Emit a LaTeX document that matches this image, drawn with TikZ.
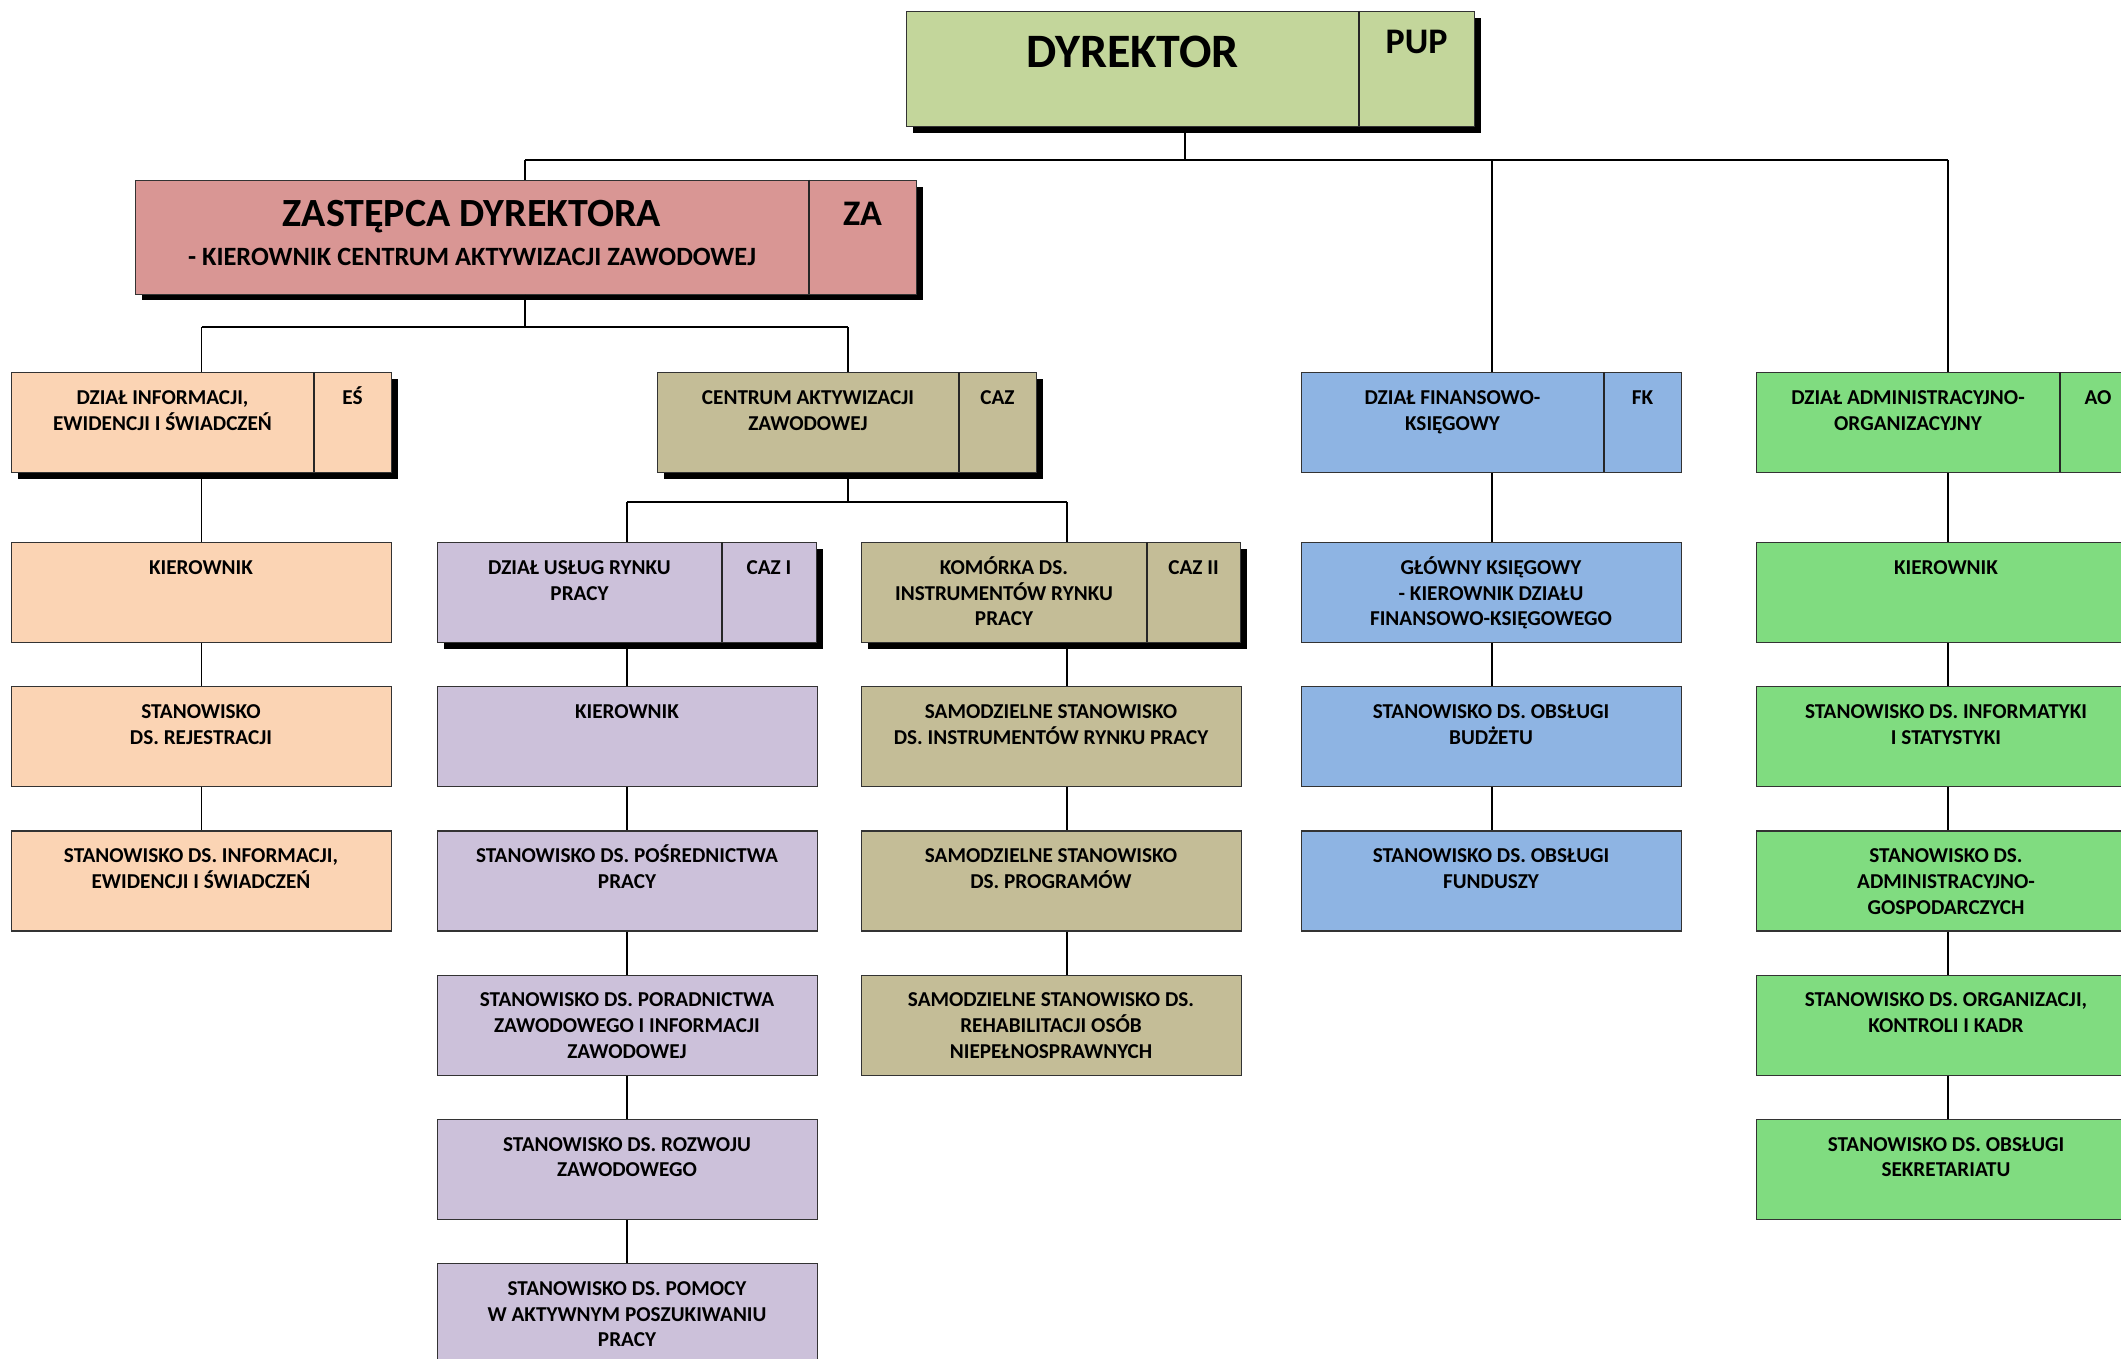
\documentclass[tikz,border=0pt]{standalone}
\usepackage{fontspec}
\setmainfont{Carlito}
\usetikzlibrary{shadows}
\definecolor{cDyr}{HTML}{C3D69B}
\definecolor{cZa}{HTML}{D99694}
\definecolor{cEs}{HTML}{FBD4B4}
\definecolor{cCaz}{HTML}{C4BD97}
\definecolor{cCazI}{HTML}{CCC1DA}
\definecolor{cFk}{HTML}{8EB4E3}
\definecolor{cAo}{HTML}{80DC80}
\newcommand\lf{\fontsize{10.6}{12.85}\selectfont\bfseries}
\newcommand\mlines[1]{\begin{tabular}[t]{@{}c@{}}#1\end{tabular}}
\newcommand\leafbox[5]{%
  \node[box, fill=#4, minimum width=190pt, minimum height=50pt] (#1) at (#2,#3) {};
  \node[lbl] (#1-t) at ({#2+190},{#3+32.3}) {\mlines{#5}};
}
\newcommand\hdrbox[9]{%
  \node[box, fill=#6, #7, minimum width={(#4-#2)*0.5pt}, minimum height=50pt] (#1) at (#2,#3) {};
  \draw[divline] ({#5},#3) -- ({#5},{#3+100});
  \node[lbl] (#1-t) at ({(#2+#5)/2},{#3+32.3}) {\mlines{#8}};
  \node[lbl] (#1-c) at ({(#5+#4)/2},{#3+32.3}) {#9};
}
\begin{document}
\begin{tikzpicture}[x=0.5pt,y=-0.5pt,
  box/.style={draw=black!80, line width=0.6pt, inner sep=0pt, anchor=north west},
  shad/.style={general shadow={fill=black, shadow xshift=3pt, shadow yshift=-3pt}},
  noshad/.style={},
  divline/.style={draw=black!85, line width=0.6pt},
  lbl/.style={anchor=base, font=\lf, inner sep=0pt},
  conn/.style={line width=0.8pt, black},
]
\useasboundingbox (0,0) rectangle (2121,1359);
\clip (0,0) rectangle (2121,1359);
\fill[white] (0,0) rectangle (2121,1359);

% top boxes
\node[box, fill=cDyr, shad, minimum width=284pt, minimum height=57.5pt] (dyr) at (906,11) {};
\draw[divline] (1359,11) -- (1359,126);
\node[anchor=base, inner sep=0pt, font=\fontsize{24}{28}\selectfont\bfseries] (dyr-t) at (1132.5,67.5) {DYREKTOR};
\node[anchor=base, inner sep=0pt, font=\fontsize{18}{22}\selectfont\bfseries] (dyr-c) at (1416.5,54) {PUP};

\node[box, fill=cZa, shad, minimum width=390.5pt, minimum height=56.75pt] (za) at (135,180) {};
\draw[divline] (809,180) -- (809,293.5);
\node[anchor=base, inner sep=0pt, font=\fontsize{20}{24}\selectfont\bfseries] (za-t) at (472,227) {ZASTĘPCA DYREKTORA};
\node[anchor=base, inner sep=0pt, font=\fontsize{13.2}{16}\selectfont\bfseries] (za-s) at (472,265) {- KIEROWNIK CENTRUM AKTYWIZACJI ZAWODOWEJ};
\node[anchor=base, inner sep=0pt, font=\fontsize{18}{22}\selectfont\bfseries] (za-c) at (862.5,225) {ZA};

% department headers
\hdrbox{es}{11}{372}{391}{314}{cEs}{shad}{DZIAŁ INFORMACJI,\\EWIDENCJI I ŚWIADCZEŃ}{EŚ}
\hdrbox{caz}{657}{372}{1036}{959}{cCaz}{shad}{CENTRUM AKTYWIZACJI\\ZAWODOWEJ}{CAZ}
\hdrbox{fk}{1301}{372}{1681}{1604}{cFk}{noshad}{DZIAŁ FINANSOWO-\\KSIĘGOWY}{FK}
\hdrbox{ao}{1756}{372}{2136}{2060}{cAo}{noshad}{DZIAŁ ADMINISTRACYJNO-\\ORGANIZACYJNY}{AO}
\hdrbox{cI}{437}{542}{816}{722}{cCazI}{shad}{DZIAŁ USŁUG RYNKU\\PRACY}{CAZ I}
\hdrbox{cII}{861}{542}{1240}{1147}{cCaz}{shad}{KOMÓRKA DS.\\INSTRUMENTÓW RYNKU\\PRACY}{CAZ II}

% leaves: rows 542, 686.2, 830.4, 974.6, 1118.8, 1263
\leafbox{es1}{11}{542}{cEs}{KIEROWNIK}
\leafbox{es2}{11}{686.2}{cEs}{STANOWISKO\\DS. REJESTRACJI}
\leafbox{es3}{11}{830.4}{cEs}{STANOWISKO DS. INFORMACJI,\\EWIDENCJI I ŚWIADCZEŃ}

\leafbox{cI1}{437}{686.2}{cCazI}{KIEROWNIK}
\leafbox{cI2}{437}{830.4}{cCazI}{STANOWISKO DS. POŚREDNICTWA\\PRACY}
\leafbox{cI3}{437}{974.6}{cCazI}{STANOWISKO DS. PORADNICTWA\\ZAWODOWEGO I INFORMACJI\\ZAWODOWEJ}
\leafbox{cI4}{437}{1118.8}{cCazI}{STANOWISKO DS. ROZWOJU\\ZAWODOWEGO}
\leafbox{cI5}{437}{1263}{cCazI}{STANOWISKO DS. POMOCY\\W AKTYWNYM POSZUKIWANIU\\PRACY}

\leafbox{cII1}{861}{686.2}{cCaz}{SAMODZIELNE STANOWISKO\\DS. INSTRUMENTÓW RYNKU PRACY}
\leafbox{cII2}{861}{830.4}{cCaz}{SAMODZIELNE STANOWISKO\\DS. PROGRAMÓW}
\leafbox{cII3}{861}{974.6}{cCaz}{SAMODZIELNE STANOWISKO DS.\\REHABILITACJI OSÓB\\NIEPEŁNOSPRAWNYCH}

\leafbox{fk1}{1301}{542}{cFk}{GŁÓWNY KSIĘGOWY\\- KIEROWNIK DZIAŁU\\FINANSOWO-KSIĘGOWEGO}
\leafbox{fk2}{1301}{686.2}{cFk}{STANOWISKO DS. OBSŁUGI\\BUDŻETU}
\leafbox{fk3}{1301}{830.4}{cFk}{STANOWISKO DS. OBSŁUGI\\FUNDUSZY}

\leafbox{ao1}{1756}{542}{cAo}{KIEROWNIK}
\leafbox{ao2}{1756}{686.2}{cAo}{STANOWISKO DS. INFORMATYKI\\I STATYSTYKI}
\leafbox{ao3}{1756}{830.4}{cAo}{STANOWISKO DS.\\ADMINISTRACYJNO-\\GOSPODARCZYCH}
\leafbox{ao4}{1756}{974.6}{cAo}{STANOWISKO DS. ORGANIZACJI,\\KONTROLI I KADR}
\leafbox{ao5}{1756}{1118.8}{cAo}{STANOWISKO DS. OBSŁUGI\\SEKRETARIATU}

% connector x positions and junction levels
\coordinate (xD) at (1185,0);
\coordinate (xZA) at (525,0);
\coordinate (xES) at (201.5,0);
\coordinate (xCAZ) at (848,0);
\coordinate (xC1) at (627,0);
\coordinate (xC2) at (1067,0);
\coordinate (xFK) at (1492,0);
\coordinate (xAO) at (1948,0);
\coordinate (yT) at (0,160);
\coordinate (yZ) at (0,327);
\coordinate (yC) at (0,502);

\draw[conn] (dyr.south -| xD) -- (yT -| xD);
\draw[conn] (yT -| xZA) -- (yT -| xAO);
\draw[conn] (yT -| xZA) -- (za.north -| xZA);
\draw[conn] (yT -| xFK) -- (fk.north -| xFK);
\draw[conn] (yT -| xAO) -- (ao.north -| xAO);
\draw[conn] (za.south -| xZA) -- (yZ -| xZA);
\draw[conn] (yZ -| xES) -- (yZ -| xCAZ);
\draw[conn] (yZ -| xES) -- (es.north -| xES);
\draw[conn] (yZ -| xCAZ) -- (caz.north -| xCAZ);
\draw[conn] (caz.south -| xCAZ) -- (yC -| xCAZ);
\draw[conn] (yC -| xC1) -- (yC -| xC2);
\draw[conn] (yC -| xC1) -- (cI.north -| xC1);
\draw[conn] (yC -| xC2) -- (cII.north -| xC2);
\foreach \a/\b in {es/es1, es1/es2, es2/es3}
  \draw[conn] (\a.south -| xES) -- (\b.north -| xES);
\foreach \a/\b in {cI/cI1, cI1/cI2, cI2/cI3, cI3/cI4, cI4/cI5}
  \draw[conn] (\a.south -| xC1) -- (\b.north -| xC1);
\foreach \a/\b in {cII/cII1, cII1/cII2, cII2/cII3}
  \draw[conn] (\a.south -| xC2) -- (\b.north -| xC2);
\foreach \a/\b in {fk/fk1, fk1/fk2, fk2/fk3}
  \draw[conn] (\a.south -| xFK) -- (\b.north -| xFK);
\foreach \a/\b in {ao/ao1, ao1/ao2, ao2/ao3, ao3/ao4, ao4/ao5}
  \draw[conn] (\a.south -| xAO) -- (\b.north -| xAO);
\end{tikzpicture}
\end{document}
